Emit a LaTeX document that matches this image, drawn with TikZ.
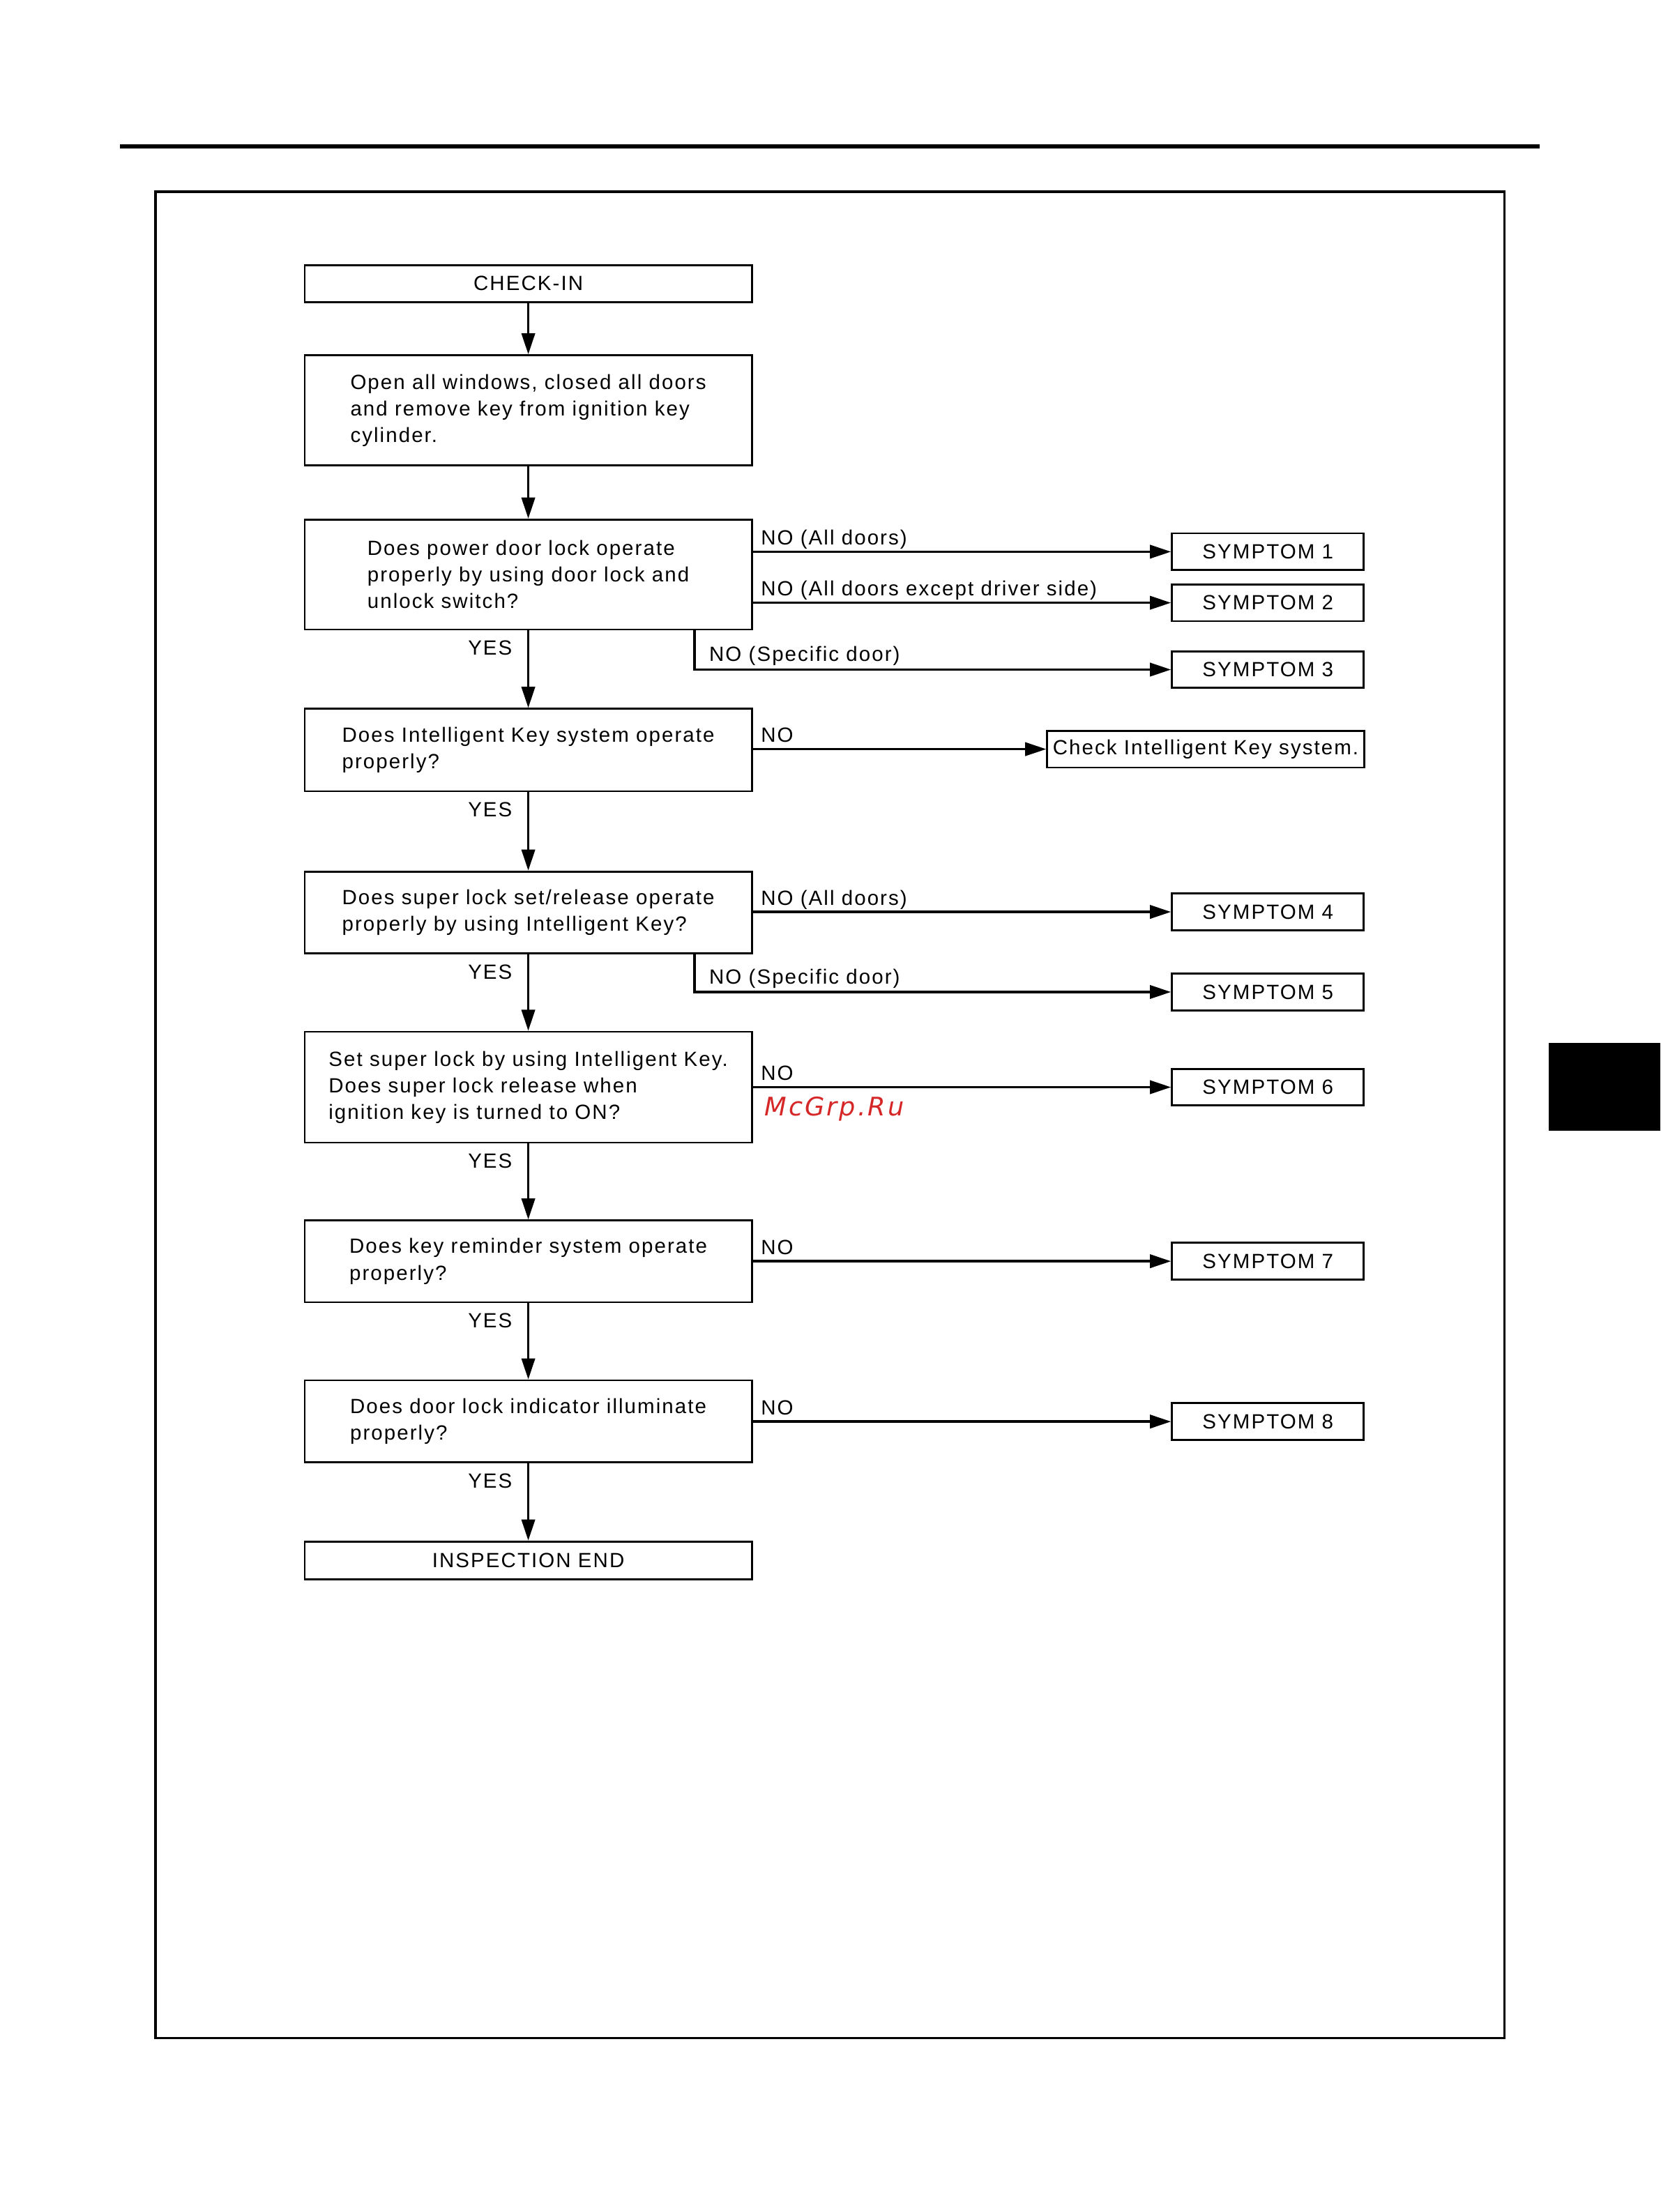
\documentclass[tikz,border=0pt]{standalone}
\usepackage{fontspec}
\setmainfont[LetterSpace=7]{Liberation Sans}
\newfontfamily\wmfont[LetterSpace=8]{DejaVu Sans}
\usetikzlibrary{arrows.meta,calc}
\newlength\dpx
\setlength\dpx{0.17842mm}
\definecolor{wmred}{RGB}{214,39,40}
\tikzset{
  box/.style={draw,line width=0.7pt,inner sep=0pt,minimum width=317\dpx,align=left,font=\fontsize{7.4}{9.56}\selectfont},
  sym/.style={box,minimum width=136\dpx,minimum height=26\dpx},
  arr/.style={-{Triangle[length=2.66mm,width=1.69mm]},line width=0.85pt},
  lbl/.style={inner sep=0pt,font=\fontsize{7.4}{9.56}\selectfont},
  yes/.style={lbl,at start,anchor=base east,xshift=-5.4pt,yshift=-8.9pt},
  no/.style={lbl,at start,anchor=base west,xshift=2.5pt,yshift=2.5pt},
  nosp/.style={lbl,pos=0.5,anchor=base west,xshift=4.9pt,yshift=3pt}
}
\begin{document}
\begin{tikzpicture}[x=0.17842mm,y=-0.17842mm]
\useasboundingbox (0,0) rectangle (1177,1568.5);
% page frame
\draw[line width=1.5pt] (85,103.8) -- (1091.5,103.8);
\draw[line width=0.85pt] (110.2,136) rectangle (1066.4,1445);
\fill (1097.9,739.5) rectangle (1177,801.8);

% main column
\draw (374.5,201.1) node[box,minimum height=26\dpx] (chk) {CHECK-IN};
\draw (374.5,290.9) node[box,minimum height=78\dpx] (opn) {Open all windows, closed all doors\\and remove key from ignition key\\cylinder.};
\draw (374.5,407.4) node[box,minimum height=78\dpx] (pdl) {Does power door lock operate\\properly by using door lock and\\unlock switch?};
\draw (374.5,531.8) node[box,minimum height=58.4\dpx] (iks) {Does Intelligent Key system operate\\properly?};
\draw (374.5,647) node[box,minimum height=58\dpx] (slk) {Does super lock set/release operate\\properly by using Intelligent Key?};
\draw (374.5,770.9) node[box,minimum height=78.6\dpx] (sls) {Set super lock by using Intelligent Key.\\Does super lock release when\\ignition key is turned to ON?};
\draw (374.5,894.4) node[box,minimum height=58\dpx] (krs) {Does key reminder system operate\\properly?};
\draw (374.5,1007.9) node[box,minimum height=58.2\dpx] (dli) {Does door lock indicator illuminate\\properly?};
\draw (374.5,1106.4) node[box,minimum height=26.7\dpx] (ins) {INSPECTION END};

% right column
\foreach \n/\y in {1/391.2,2/427.4,3/474.8,4/646.6,5/703.4,6/770.9,7/894.3,8/1008}
  \draw (898.8,\y) node[sym] (s\n) {SYMPTOM \n};
\draw (854.7,531.2) node[box,minimum width=224.7\dpx,minimum height=26\dpx] (cik) {Check Intelligent Key system.};

\draw (541.8,791) node[anchor=base west,inner sep=0pt,text=wmred,font=\wmfont\itshape\fontsize{9.2}{11}\selectfont] (wm) {McGrp.Ru};

% yes path
\draw[arr] (chk) -- (opn);
\draw[arr] (opn) -- (pdl);
\draw[arr] (pdl) -- node[yes] {YES} (iks);
\draw[arr] (iks) -- node[yes] {YES} (slk);
\draw[arr] (slk) -- node[yes] {YES} (sls);
\draw[arr] (sls) -- node[yes] {YES} (krs);
\draw[arr] (krs) -- node[yes] {YES} (dli);
\draw[arr] (dli) -- node[yes] {YES} (ins);

% no paths
\draw[arr] (pdl.east |- s1) -- node[no] {NO (All doors)} (s1);
\draw[arr] (pdl.east |- s2) -- node[no] {NO (All doors except driver side)} (s2);
\coordinate (b3) at ($(pdl.south east)+(-41.4,0)$);
\draw[arr] (b3) |- node[nosp] {NO (Specific door)} (s3);
\draw[arr] (iks.east |- cik) -- node[no] {NO} (cik);
\draw[arr] (slk.east |- s4) -- node[no] {NO (All doors)} (s4);
\coordinate (b5) at ($(slk.south east)+(-41.4,0)$);
\draw[arr] (b5) |- node[nosp] {NO (Specific door)} (s5);
\draw[arr] (sls.east |- s6) -- node[no] {NO} (s6);
\draw[arr] (krs.east |- s7) -- node[no] {NO} (s7);
\draw[arr] (dli.east |- s8) -- node[no] {NO} (s8);
\end{tikzpicture}
\end{document}
